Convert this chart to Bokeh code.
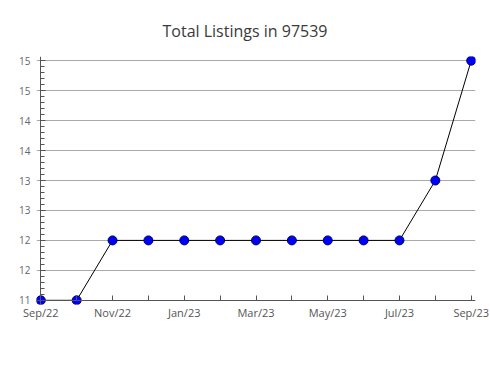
from bokeh.plotting import figure
from bokeh.models import FixedTicker, Range1d, LinearAxis
from bokeh.embed import file_html
from bokeh.resources import INLINE

title_text = "Total Listings in 97539"
months = ["Sep/22", "Oct/22", "Nov/22", "Dec/22", "Jan/23", "Feb/23", "Mar/23",
          "Apr/23", "May/23", "Jun/23", "Jul/23", "Aug/23", "Sep/23"]
listings = [11, 11, 12, 12, 12, 12, 12, 12, 12, 12, 12, 13, 15]
y_ticks = [11, 11.5, 12, 12.5, 13, 13.5, 14, 14.5, 15]
y_tick_labels = ["11", "12", "12", "13", "13", "14", "14", "15", "15"]
y_minor = [round(11 + 0.1 * i, 1) for i in range(41)]

xs = list(range(len(months)))
x_labels = {i: (m if i % 2 == 0 else "") for i, m in enumerate(months)}
y_labels = {t: l for t, l in zip(y_ticks, y_tick_labels)}

p = figure(width=490, height=380, output_backend="svg", toolbar_location=None,
           x_range=Range1d(-0.12, 12.12), y_range=Range1d(10.93, 15.07),
           min_border_left=36, min_border_right=15, min_border_top=56, min_border_bottom=76)
p.outline_line_color = None
p.background_fill_color = "white"
p.border_fill_color = "white"

p.title.text = title_text
p.title.align = "left"
p.title.text_font = "Open Sans"
p.title.text_font_style = "normal"
p.title.text_font_size = "16px"
p.title.text_color = "#3a3a3a"
p.title.offset = 126
p.title.standoff = 30

p.line(xs, listings, line_color="black", line_width=1)
p.scatter(xs, listings, size=9, fill_color="#0000ff", line_color="#000066", line_width=1)

# label-only axes at frame edges
xa = p.xaxis[0]
xa.ticker = FixedTicker(ticks=xs)
xa.major_label_overrides = x_labels
xa.axis_line_color = None
xa.major_tick_line_color = None
xa.major_tick_in = 0
xa.major_tick_out = 0
xa.minor_tick_line_color = None
xa.minor_tick_in = 0
xa.minor_tick_out = 0
xa.major_label_text_font = "Open Sans"
xa.major_label_text_font_size = "11px"
xa.major_label_text_color = "#555555"
xa.major_label_standoff = 0

ya = p.yaxis[0]
ya.ticker = FixedTicker(ticks=y_ticks)
ya.major_label_overrides = y_labels
ya.axis_line_color = None
ya.major_tick_line_color = None
ya.major_tick_in = 0
ya.major_tick_out = 0
ya.minor_tick_line_color = None
ya.minor_tick_in = 0
ya.minor_tick_out = 0
ya.major_label_text_font = "Open Sans"
ya.major_label_text_font_size = "10px"
ya.major_label_text_color = "#666666"
ya.major_label_standoff = 6

# line/tick axes fixed at the data extents (on opposite sides so ticks point inward)
xl = LinearAxis(fixed_location=11, ticker=FixedTicker(ticks=xs))
xl.axis_line_color = "#555555"
xl.major_tick_line_color = "#555555"
xl.major_tick_in = 0
xl.major_tick_out = 5
xl.minor_tick_line_color = None
xl.major_label_text_color = None
xl.major_label_text_font_size = "0px"
xl.major_label_standoff = 0
p.add_layout(xl, "above")

yl = LinearAxis(fixed_location=0, ticker=FixedTicker(ticks=y_ticks, minor_ticks=y_minor))
yl.axis_line_color = "#555555"
yl.major_tick_line_color = "#555555"
yl.major_tick_in = 0
yl.major_tick_out = 5
yl.minor_tick_line_color = "#555555"
yl.minor_tick_in = 0
yl.minor_tick_out = 4
yl.major_label_text_color = None
yl.major_label_text_font_size = "0px"
yl.major_label_standoff = 0
p.add_layout(yl, "right")

p.xgrid.grid_line_color = None
p.ygrid.grid_line_color = "#aaaaaa"
p.ygrid.ticker = FixedTicker(ticks=y_ticks)

open("out.html", "w").write(file_html(p, INLINE))
